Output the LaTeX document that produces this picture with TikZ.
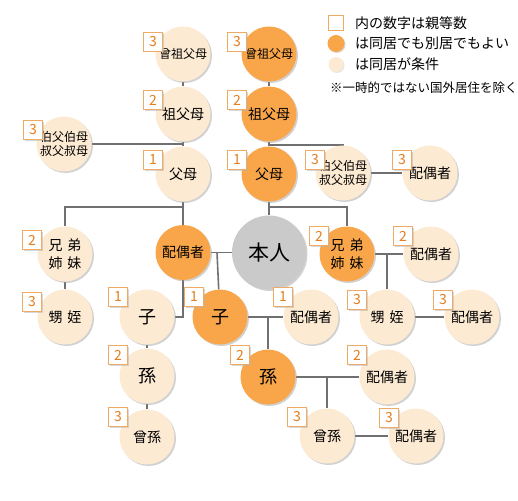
\documentclass[tikz,border=0pt]{standalone}
\usepackage{fontspec}
\newfontfamily\jp{Noto Sans CJK JP}
\usepackage{xcolor}
\definecolor{peach}{HTML}{FDEAD3}
\definecolor{tangerine}{HTML}{F9A64B}
\definecolor{selfgray}{HTML}{CACACA}
\definecolor{wire}{HTML}{707070}
\definecolor{badgeline}{HTML}{EFAA66}
\definecolor{badgetext}{HTML}{E57E1E}
\usepackage{tikz}
\usetikzlibrary{shadows, backgrounds}

\begin{document}
\begin{tikzpicture}[
    x=1pt, y=-1pt,
    kin/.style={
        circle,
        minimum size=55pt,
        inner sep=0pt,
        align=center,
        font=\jp\fontsize{14}{18}\selectfont,
        drop shadow={shadow xshift=1.5pt, shadow yshift=-1.5pt, fill=black!40, opacity=0.45}
    },
    samehome/.style={kin, fill=peach},
    anyhome/.style={kin, fill=tangerine},
    tight/.style={font=\jp\fontsize{12}{14.5}\selectfont},
    onechar/.style={font=\jp\fontsize{18}{20}\selectfont},
    deg/.style={
        rectangle,
        draw=badgeline,
        fill=white,
        minimum width=19pt,
        minimum height=19pt,
        inner sep=0pt,
        text=badgetext,
        font=\jp\fontsize{14}{14}\selectfont,
        drop shadow={shadow xshift=1pt, shadow yshift=-1pt, fill=black!30, opacity=0.5}
    },
    link/.style={draw=wire, line width=1.6pt},
    key/.style={anchor=west, inner sep=0pt, font=\jp\fontsize{14}{16}\selectfont}
]
\useasboundingbox (0,0) rectangle (518,500);

% 本人と配偶者
\node[kin, fill=selfgray, minimum size=74pt, font=\jp\fontsize{21}{22}\selectfont] (self) at (269,252.5) {本人};
\node[anyhome] (spouse) at (183,252.5) {配偶者};

% 尊属
\node[anyhome, tight] (ggpB) at (269,54) {曾祖父母};
\node[anyhome] (gpB) at (269,114) {祖父母};
\node[anyhome] (pB) at (269,174) {父母};
\node[samehome, tight] (ggpA) at (183,54) {曾祖父母};
\node[samehome] (gpA) at (183,114) {祖父母};
\node[samehome] (pA) at (183,174) {父母};
\node[samehome, tight] (uncleL) at (64,144) {伯父伯母\\叔父叔母};
\node[samehome, tight] (uncleR) at (343,173) {伯父伯母\\叔父叔母};
\node[samehome] (uncleRsp) at (430,173) {配偶者};

% 兄弟姉妹
\node[samehome] (sibL) at (65,254) {兄\hspace{5pt}弟\\姉\hspace{5pt}妹};
\node[samehome] (nephL) at (65,317) {甥\hspace{5pt}姪};
\node[anyhome] (sibR) at (347,254) {兄\hspace{5pt}弟\\姉\hspace{5pt}妹};
\node[samehome] (sibRsp) at (431,254) {配偶者};
\node[samehome] (nephR) at (387,317) {甥\hspace{5pt}姪};
\node[samehome] (nephRsp) at (472,317) {配偶者};

% 卑属
\node[samehome, onechar] (childL) at (147,317) {子};
\node[anyhome, onechar] (childR) at (220,317) {子};
\node[samehome] (childRsp) at (311,317) {配偶者};
\node[samehome, onechar] (gcL) at (147,376) {孫};
\node[anyhome, onechar] (gcR) at (268,377) {孫};
\node[samehome] (gcRsp) at (387,377) {配偶者};
\node[samehome] (ggcL) at (147,437) {曾孫};
\node[samehome] (ggcR) at (327,436) {曾孫};
\node[samehome] (ggcRsp) at (416,436) {配偶者};

% 親等数
\node[deg] (dggpA) at (153,42) {3};
\node[deg] (dgpA) at (153,100) {2};
\node[deg] (dpA) at (153,160) {1};
\node[deg] (dggpB) at (237,42) {3};
\node[deg] (dgpB) at (237,100) {2};
\node[deg] (dpB) at (237,160) {1};
\node[deg] (duncleL) at (33,130) {3};
\node[deg] (duncleR) at (315,160) {3};
\node[deg] (duncleRsp) at (402,160) {3};
\node[deg] (dsibL) at (32,240) {2};
\node[deg] (dnephL) at (32,302) {3};
\node[deg] (dsibR) at (319,236) {2};
\node[deg] (dsibRsp) at (403,236) {2};
\node[deg] (dnephR) at (357,300) {3};
\node[deg] (dnephRsp) at (443,300) {3};
\node[deg] (dchildL) at (118,297) {1};
\node[deg] (dchildR) at (194,297) {1};
\node[deg] (dchildRsp) at (283,297) {1};
\node[deg] (dgcL) at (118,355) {2};
\node[deg] (dgcR) at (240,355) {2};
\node[deg] (dgcRsp) at (357,355) {2};
\node[deg] (dggcL) at (118,417) {3};
\node[deg] (dggcR) at (297,417) {3};
\node[deg] (dggcRsp) at (389,418) {3};

% 凡例
\node[draw=badgeline, fill=white, minimum size=15pt, inner sep=0pt] (keybox) at (336,23) {};
\node[circle, fill=tangerine, minimum size=17pt, inner sep=0pt,
      drop shadow={shadow xshift=1pt, shadow yshift=-1pt, fill=black!30, opacity=0.5}] (keyany) at (336,43.5) {};
\node[circle, fill=peach, minimum size=15pt, inner sep=0pt,
      drop shadow={shadow xshift=1pt, shadow yshift=-1pt, fill=black!20, opacity=0.5}] (keysame) at (336,64.5) {};
\node[key] (tbox) at (355,23) {内の数字は親等数};
\node[key] (tany) at (355,43.5) {は同居でも別居でもよい};
\node[key] (tsame) at (355,64.5) {は同居が条件};
\node[key, font=\jp\fontsize{12.5}{14}\selectfont] (tnote) at (330,88) {※一時的ではない国外居住を除く};

\begin{scope}[on background layer]
\draw[link] (ggpA) -- (gpA) -- (pA) -- (spouse);
\draw[link] (ggpB) -- (gpB) -- (pB) -- (self);
\draw[link] (uncleL) -- (uncleL -| pA);
\coordinate (jU) at (269,145);
\draw[link] (jU) -| (uncleR);
\draw[link] (uncleR) -- (uncleRsp);
\coordinate (jSL) at (183,207);
\coordinate (jSR) at (269,207);
\draw[link] (jSL) -| (sibL);
\draw[link] (jSR) -| (sibR);
\draw[link] (sibL) -- (nephL);
\draw[link] (sibR) -- (sibRsp);
\draw[link] (nephR |- sibR) -- (nephR);
\draw[link] (nephR) -- (nephRsp);
\draw[link] (spouse) -- (self);
\draw[link] (217,252.5) -- (childR);
\draw[link] (spouse) |- (childL);
\draw[link] (childR) -- (childRsp);
\draw[link] (gcR |- childR) -- (gcR);
\draw[link] (childL) -- (gcL) -- (ggcL);
\draw[link] (gcR) -- (gcRsp);
\draw[link] (ggcR |- gcR) -- (ggcR);
\draw[link] (ggcR) -- (ggcRsp);
\end{scope}

\end{tikzpicture}
\end{document}
